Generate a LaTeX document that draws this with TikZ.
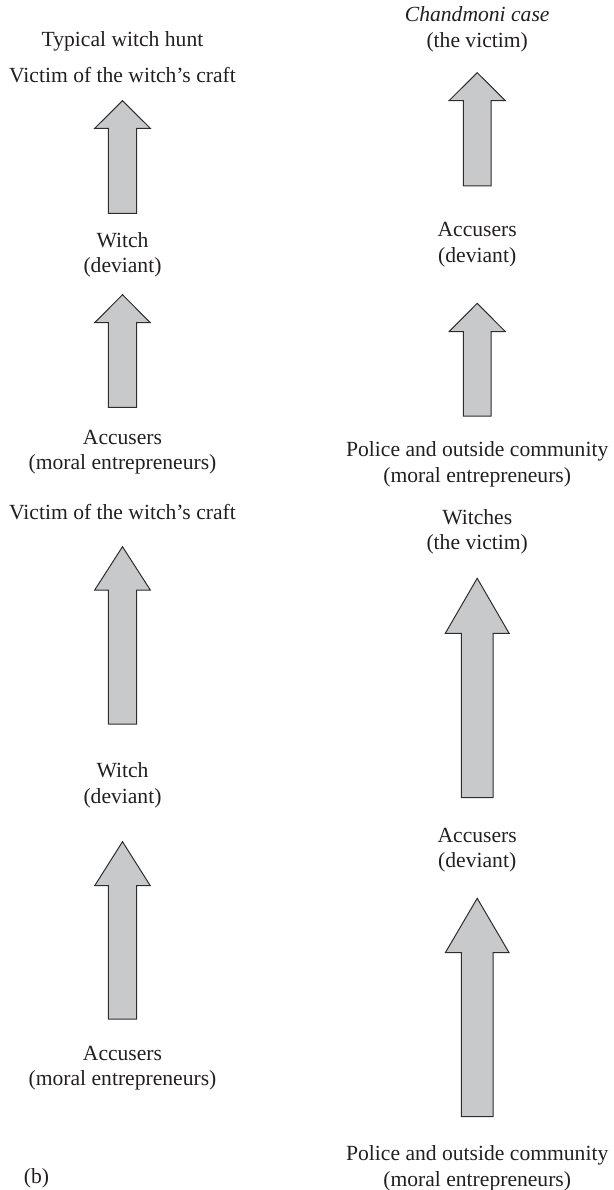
\documentclass[tikz,border=0pt]{standalone}
\usepackage{fontspec}
\setmainfont{Liberation Serif}
\definecolor{arrfill}{RGB}{200,201,203}
\definecolor{arrline}{RGB}{45,45,45}
\definecolor{txt}{RGB}{35,31,32}
\newcommand\blockarr[6]{%
  \draw[barrow] (#1,#2) -- (#1+#5,#3) -- (#1+#6,#3) -- (#1+#6,#4)
    -- (#1-#6,#4) -- (#1-#6,#3) -- (#1-#5,#3) -- cycle;}
\begin{document}
\begin{tikzpicture}[x=1pt,y=-1pt,
  lbl/.style={font=\fontsize{21.6}{25.5}\selectfont, align=center, inner sep=0pt, text=txt},
  barrow/.style={fill=arrfill, draw=arrline, line width=1pt, line join=miter}]
\path[use as bounding box] (0,0) rectangle (613,1190);

% ---- left column, part (a)
\node[lbl] (titleA) at (122.5,41.7) {Typical witch hunt\strut};
\node[lbl] (vicA) at (122.5,77.7) {Victim of the witch’s craft\strut};
\node[lbl] (witchA) at (122.5,254.7) {Witch\strut\\(deviant)\strut};
\node[lbl] (accA) at (122.5,451.7) {Accusers\strut\\(moral entrepreneurs)\strut};
\blockarr{122.5}{100.7}{128.3}{213.3}{27.8}{14.2}
\blockarr{122.5}{294.7}{322.7}{407.3}{27.8}{14.2}

% ---- right column, part (a)
\node[lbl] (chand) at (477.2,29.4) {\textit{Chandmoni case}\strut\\(the victim)\strut};
\node[lbl] (accR) at (477.2,244.5) {Accusers\strut\\(deviant)\strut};
\node[lbl] (polR) at (477.2,464.4) {Police and outside community\strut\\(moral entrepreneurs)\strut};
\blockarr{477.2}{72.7}{100.7}{186}{28.2}{13.9}
\blockarr{477.2}{303.3}{331.7}{416}{28.2}{13.9}

% ---- left column, part (b)
\node[lbl] (vicB) at (122.5,514.3) {Victim of the witch’s craft\strut};
\node[lbl] (witchB) at (122.5,785.2) {Witch\strut\\(deviant)\strut};
\node[lbl] (accB) at (122.5,1067.7) {Accusers\strut\\(moral entrepreneurs)\strut};
\blockarr{122.5}{546.7}{590}{724}{27.8}{14.2}
\blockarr{122.5}{841.7}{885.7}{1019}{27.8}{14.2}

% ---- right column, part (b)
\node[lbl] (witchesR) at (477.2,531.8) {Witches\strut\\(the victim)\strut};
\node[lbl] (accR2) at (477.2,849.9) {Accusers\strut\\(deviant)\strut};
\node[lbl] (polR2) at (477.2,1168.5) {Police and outside community\strut\\(moral entrepreneurs)\strut};
\blockarr{477.2}{578.3}{633.3}{797.7}{31.9}{15.9}
\blockarr{477.2}{898.3}{952.7}{1116.7}{31.9}{15.9}

\node[lbl] (blabel) at (36.5,1178.3) {(b)\strut};
\end{tikzpicture}
\end{document}
